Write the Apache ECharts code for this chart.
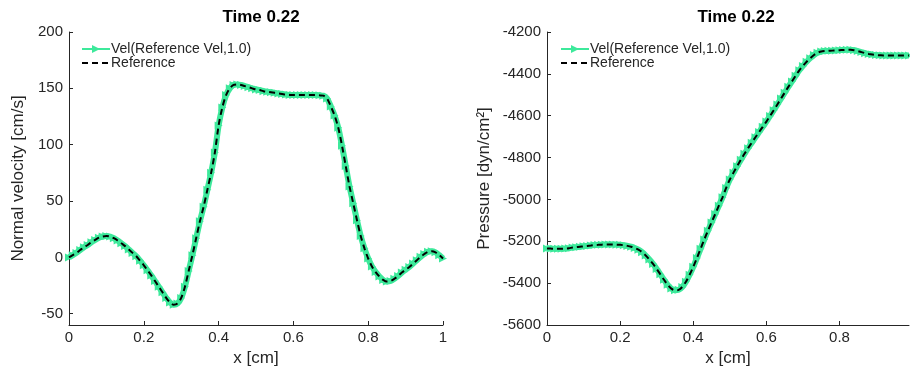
<!DOCTYPE html>
<html>
<head>
<meta charset="utf-8">
<script src="https://cdn.jsdelivr.net/npm/echarts@6/dist/echarts.min.js"></script>
<style>html,body{margin:0;padding:0;background:#fff}#c{width:910px;height:366px}</style>
</head>
<body>
<div id="c"></div>
<script>
// x positions (cm)
const xVel = [0,0.01,0.02,0.03,0.04,0.05,0.06,0.07,0.08,0.09,0.10,0.11,0.12,0.13,0.14,0.15,0.16,0.17,0.18,0.19,0.20,0.21,0.22,0.23,0.24,0.25,0.26,0.27,0.28,0.29,0.30,0.31,0.32,0.33,0.34,0.35,0.36,0.37,0.38,0.39,0.40,0.41,0.42,0.43,0.44,0.45,0.46,0.47,0.48,0.49,0.50,0.51,0.52,0.53,0.54,0.55,0.56,0.57,0.58,0.59,0.60,0.61,0.62,0.63,0.64,0.65,0.66,0.67,0.68,0.69,0.70,0.71,0.72,0.73,0.74,0.75,0.76,0.77,0.78,0.79,0.80,0.81,0.82,0.83,0.84,0.85,0.86,0.87,0.88,0.89,0.90,0.91,0.92,0.93,0.94,0.95,0.96,0.97,0.98,0.99,1.00];
// normal velocity (cm/s)
const velocity = [0,2,4,6.5,9,11,13.5,15.5,17.5,18.5,19,18.5,17,15,12.5,10,7,4,1,-3,-7,-11.5,-16,-21,-26,-31,-36,-40,-42,-41,-36,-26,-12,2,17,32,45,60,75,93,117,133,144,150,153,153.5,153,152,151,150,149,148.5,147.5,147,146.5,146,145.5,145,144.5,144.2,144,144,144,144,144,144,144,143.8,143.5,141,134,126,115,99,81,63,48,33,19,8,-1,-8,-13,-17,-20,-21.5,-21,-19,-16.5,-13.5,-11,-8.5,-5.5,-2.5,0.5,3,5,5.5,4.5,2,-1];
const xPres = [0,0.01,0.02,0.03,0.04,0.05,0.06,0.07,0.08,0.09,0.10,0.11,0.12,0.13,0.14,0.15,0.16,0.17,0.18,0.19,0.20,0.21,0.22,0.23,0.24,0.25,0.26,0.27,0.28,0.29,0.30,0.31,0.32,0.33,0.34,0.35,0.36,0.37,0.38,0.39,0.40,0.41,0.42,0.43,0.44,0.45,0.46,0.47,0.48,0.49,0.50,0.51,0.52,0.53,0.54,0.55,0.56,0.57,0.58,0.59,0.60,0.61,0.62,0.63,0.64,0.65,0.66,0.67,0.68,0.69,0.70,0.71,0.72,0.73,0.74,0.75,0.76,0.77,0.78,0.79,0.80,0.81,0.82,0.83,0.84,0.85,0.86,0.87,0.88,0.89,0.90,0.91,0.92,0.93,0.94,0.95,0.96,0.97,0.98,0.99];
// pressure (dyn/cm^2)
const pressure = [-5234,-5235,-5236,-5236,-5236,-5235,-5233,-5230,-5228,-5226,-5224,-5222,-5220,-5218,-5217,-5216,-5215,-5215,-5215,-5216,-5217,-5219,-5222,-5226,-5232,-5240,-5252,-5268,-5287,-5308,-5332,-5358,-5384,-5408,-5426,-5434,-5432,-5418,-5393,-5360,-5322,-5280,-5236,-5192,-5150,-5110,-5070,-5030,-4990,-4945,-4905,-4872,-4841,-4811,-4782,-4755,-4729,-4703,-4678,-4653,-4628,-4601,-4574,-4546,-4518,-4490,-4462,-4436,-4409,-4383,-4362,-4342,-4325,-4310,-4299,-4293,-4291,-4290,-4289,-4288,-4287,-4286,-4285,-4285,-4287,-4291,-4296,-4301,-4305,-4308,-4310,-4311,-4312,-4312,-4312,-4312,-4312,-4312,-4312,-4312];
const velTicks = [-50,0,50,100,150,200];
const presTicks = [-5600,-5400,-5200,-5000,-4800,-4600,-4400,-4200];
const xTicksLeft = [0,0.2,0.4,0.6,0.8,1];
const xTicksRight = [0,0.2,0.4,0.6,0.8];
const seriesNames = ['Vel(Reference Vel,1.0)','Reference'];
const titleText = 'Time 0.22';

const GREEN = '#3de99b';
const INK = '#262626';
const FONT = 'Liberation Sans, Arial, sans-serif';
const TICK_LEN = 4;

function pairs(xs, ys){ return xs.map((x,i)=>[x, ys[i]]); }
function fmt(v){ return String(+(+v).toFixed(2)); }

function xAxis(gridIndex, max, ticks){
  return {
    type:'value', gridIndex, min:0, max, name:'x [cm]', nameLocation:'middle', nameGap:23,
    nameTextStyle:{color:INK, fontSize:17, fontFamily:FONT},
    axisLine:{show:true, onZero:false, lineStyle:{color:INK, width:1}},
    axisTick:{show:true, inside:true, length:TICK_LEN, customValues:ticks, lineStyle:{color:INK, width:1}},
    axisLabel:{color:INK, fontSize:15, fontFamily:FONT, margin:5, customValues:ticks, formatter:fmt},
    splitLine:{show:false}
  };
}
function yAxis(gridIndex, min, max, ticks, name, gap){
  return {
    type:'value', gridIndex, min, max, name, nameLocation:'middle', nameGap:gap,
    nameTextStyle:{color:INK, fontSize:17, fontFamily:FONT},
    axisLine:{show:true, onZero:false, lineStyle:{color:INK, width:1}},
    axisTick:{show:true, inside:true, length:TICK_LEN, customValues:ticks, lineStyle:{color:INK, width:1}},
    axisLabel:{color:INK, fontSize:15, fontFamily:FONT, margin:6, customValues:ticks, formatter:fmt},
    splitLine:{show:false}
  };
}
function velSeries(name, data, xi){
  return {name, type:'line', xAxisIndex:xi, yAxisIndex:xi, data, smooth:0.3,
    symbol:'triangle', symbolRotate:-90, symbolSize:8, showSymbol:true,
    itemStyle:{color:GREEN}, lineStyle:{color:GREEN, width:6}, z:2};
}
function refSeries(name, data, xi){
  return {name, type:'line', xAxisIndex:xi, yAxisIndex:xi, data, smooth:0.3,
    symbol:'none', itemStyle:{color:'#000'}, lineStyle:{color:'#000', width:2, type:[6,4]}, z:3};
}
function legend(left){
  return {left, top:37, orient:'vertical', itemWidth:28, itemHeight:10, itemGap:0,
    textStyle:{color:INK, fontSize:14, fontFamily:FONT, padding:[0,0,0,-4]},
    data:[{name:seriesNames[0]}, {name:seriesNames[1], itemStyle:{color:'rgba(0,0,0,0)', borderWidth:0}}]};
}

const chart = echarts.init(document.getElementById('c'), null, {renderer:'canvas'});
chart.setOption({
  animation:false,
  backgroundColor:'#fff',
  title:[
    {text:titleText, left:256, top:4, textAlign:'center', textStyle:{fontSize:17, fontWeight:'bold', color:'#000', fontFamily:FONT}},
    {text:titleText, left:731, top:4, textAlign:'center', textStyle:{fontSize:17, fontWeight:'bold', color:'#000', fontFamily:FONT}}
  ],
  legend:[legend(76), legend(555)],
  grid:[
    {left:69, top:32, width:374, height:293, containLabel:false, outerBoundsMode:'none'},
    {left:547, top:32, width:362, height:293, containLabel:false, outerBoundsMode:'none'}
  ],
  xAxis:[xAxis(0, 1, xTicksLeft), xAxis(1, 0.99, xTicksRight)],
  yAxis:[
    yAxis(0, -60, 200, velTicks, 'Normal velocity [cm/s]', 42),
    yAxis(1, -5600, -4200, presTicks, 'Pressure [dyn/cm\u00B2]', 54)
  ],
  series:[
    velSeries(seriesNames[0], pairs(xVel, velocity), 0),
    refSeries(seriesNames[1], pairs(xVel, velocity), 0),
    velSeries(seriesNames[0], pairs(xPres, pressure), 1),
    refSeries(seriesNames[1], pairs(xPres, pressure), 1)
  ]
});
</script>
</body>
</html>
